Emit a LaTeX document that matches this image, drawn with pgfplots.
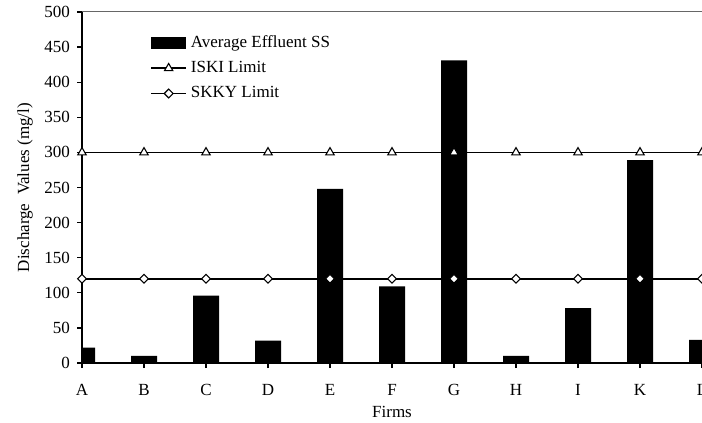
\documentclass[border=0pt]{standalone}
\usepackage{pgfplots}
\pgfplotsset{compat=1.18}
\usepackage{fontspec}
\setmainfont{Liberation Serif}

\pgfplotsset{
  linelegend/.style={legend image code/.code={%
    \draw[mark repeat=2,mark phase=2,##1] plot coordinates {(0pt,0pt) (8.75pt,0pt) (17.5pt,0pt)};}},
  barlegend/.style={legend image code/.code={%
    \fill[black] (0pt,-3pt) rectangle (17.5pt,3pt);}},
}

\pgfplotstableread{
x  ss    iski  skky
0  22    300   120
1  10    300   120
2  96    300   120
3  32    300   120
4  248   300   120
5  109   300   120
6  431   300   120
7  10    300   120
8  78    300   120
9  289   300   120
10 33    300   120
}\firmdata

\begin{document}
\begin{tikzpicture}
\begin{axis}[
    name=ax,
    scale only axis,
    width=310pt, height=175.5pt,
    xmin=0, xmax=10, ymin=0, ymax=500,
    enlargelimits=false,
    axis x line*=bottom,
    axis y line*=left,
    axis line style={line width=0.6pt, -},
    tick align=outside,
    major tick length=2.5pt,
    tick style={black, line width=0.6pt},
    xtick={0,...,10},
    xticklabels={A,B,C,D,E,F,G,H,I,K,L},
    ytick={0,50,...,500},
    tick label style={font=\fontsize{8.5}{10}\selectfont},
    xticklabel style={yshift=-4.5pt},
    /pgf/number format/assume math mode=true,
    xlabel={Firms},
    ylabel={Discharge\ \ Values (mg/l)},
    label style={font=\fontsize{8.5}{10}\selectfont},
    xlabel style={at={(axis description cs:0.5,0)}, anchor=base, yshift=-27pt},
    ylabel style={at={(axis description cs:-0.0919,0.5)}, anchor=center},
    legend style={draw=none, fill=none, at={(axis description cs:0.1,0.958)}, anchor=north west,
        font=\fontsize{8.5}{10}\selectfont, row sep=1.5pt},
    legend cell align=left,
]
\addplot[ybar, bar width=13pt, fill=black, draw=none, barlegend]
    table[x=x, y=ss] {\firmdata};
\addlegendentry{Average Effluent SS}
\addplot[black, line width=0.75pt, mark=triangle*, mark size=2.4pt,
    mark options={fill=white, line width=0.55pt}, linelegend]
    table[x=x, y=iski] {\firmdata};
\addlegendentry{ISKI Limit}
\addplot[black, line width=0.75pt, mark=square*, mark size=1.55pt,
    mark options={fill=white, line width=0.55pt, rotate=45}, linelegend]
    table[x=x, y=skky] {\firmdata};
\addlegendentry{SKKY Limit}
\end{axis}
\draw[black!60, line width=0.5pt] (ax.north west) -- (ax.north east);
\draw[black!25, line width=0.5pt] (ax.south east) -- (ax.north east);
\pgfresetboundingbox
\path[use as bounding box] ([xshift=-41pt, yshift=-30pt]ax.south west) rectangle ([yshift=6pt]ax.north east);
\end{tikzpicture}
\end{document}
